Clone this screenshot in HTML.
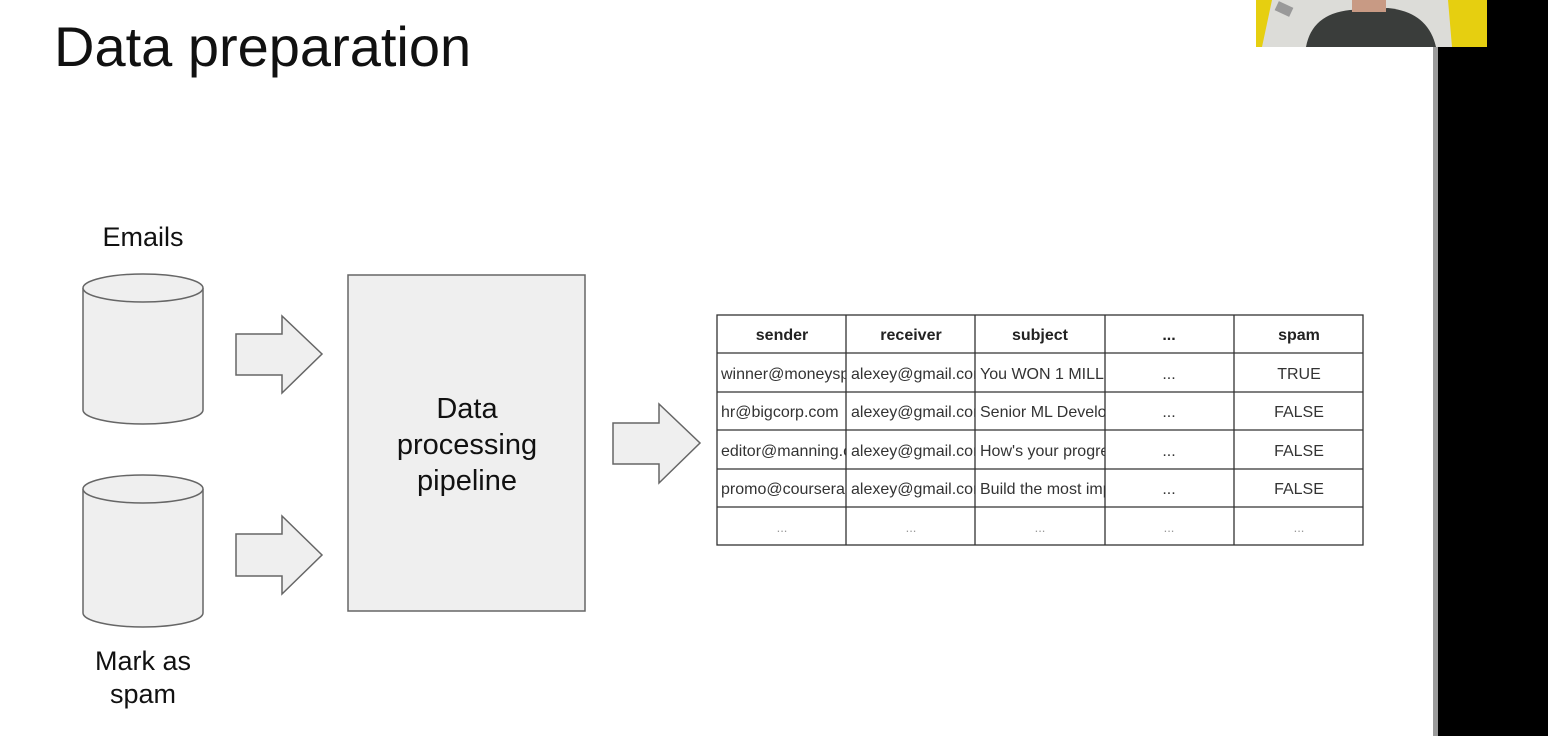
<!DOCTYPE html>
<html><head><meta charset="utf-8"><style>
html,body{margin:0;padding:0;background:#fff;}
svg{display:block;}
text{font-family:"Liberation Sans",Arial,sans-serif;}
</style></head><body>
<svg width="1548" height="736" viewBox="0 0 1548 736" xmlns="http://www.w3.org/2000/svg">
<rect width="1548" height="736" fill="#fff"/>
<rect x="1433" y="47" width="115" height="689" fill="#000"/>
<rect x="1433" y="47" width="5" height="689" fill="#9a9a9a"/>
<rect x="1487" y="0" width="61" height="47" fill="#000"/>
<rect x="1256" y="0" width="231" height="47" fill="#e6cf10"/>
<polygon points="1272,0 1448,0 1452,47 1262,47" fill="#dcdcd8"/>
<rect x="1276" y="4" width="16" height="10" fill="#999" transform="rotate(25 1284 9)"/>
<path d="M1306,47 Q1312,14 1350,10 L1388,8 Q1428,12 1436,47 Z" fill="#3a3d3b"/>
<rect x="1352" y="0" width="34" height="12" fill="#c89a84"/>
<text x="54" y="66" font-size="56" fill="#111">Data preparation</text>
<text x="143" y="246" font-size="27" text-anchor="middle" fill="#111">Emails</text>
<text x="143" y="670" font-size="27" text-anchor="middle" fill="#111">Mark as</text>
<text x="143" y="703" font-size="27" text-anchor="middle" fill="#111">spam</text>
<g fill="#efefef" stroke="#666" stroke-width="1.5">
<path d="M83,288 L83,410 A60,14 0 0 0 203,410 L203,288"/>
<ellipse cx="143" cy="288" rx="60" ry="14"/>
<path d="M83,489 L83,613 A60,14 0 0 0 203,613 L203,489"/>
<ellipse cx="143" cy="489" rx="60" ry="14"/>
<polygon points="236,334 282,334 282,316 322,354 282,393 282,375 236,375"/>
<polygon points="236,534 282,534 282,516 322,555 282,594 282,576 236,576"/>
<polygon points="613,423 659,423 659,404 700,443 659,483 659,464 613,464"/>
<rect x="348" y="275" width="237" height="336"/>
</g>
<text x="467" y="418" font-size="29" text-anchor="middle" fill="#111">Data</text>
<text x="467" y="454" font-size="29" text-anchor="middle" fill="#111">processing</text>
<text x="467" y="490" font-size="29" text-anchor="middle" fill="#111">pipeline</text>
<g stroke="#333" stroke-width="1.3" fill="none">
<rect x="717" y="315" width="646" height="230"/>
<line x1="717" y1="353" x2="1363" y2="353"/>
<line x1="717" y1="392" x2="1363" y2="392"/>
<line x1="717" y1="430" x2="1363" y2="430"/>
<line x1="717" y1="469" x2="1363" y2="469"/>
<line x1="717" y1="507" x2="1363" y2="507"/>
<line x1="846" y1="315" x2="846" y2="545"/>
<line x1="975" y1="315" x2="975" y2="545"/>
<line x1="1105" y1="315" x2="1105" y2="545"/>
<line x1="1234" y1="315" x2="1234" y2="545"/>
</g>
<defs>
<clipPath id="c1"><rect x="717" y="315" width="129" height="230"/></clipPath>
<clipPath id="c2"><rect x="846" y="315" width="129" height="230"/></clipPath>
<clipPath id="c3"><rect x="975" y="315" width="130" height="230"/></clipPath>
</defs>
<g font-size="16" fill="#222" font-weight="bold" text-anchor="middle">
<text x="782" y="340">sender</text><text x="911" y="340">receiver</text><text x="1040" y="340">subject</text><text x="1169" y="340">...</text><text x="1299" y="340">spam</text>
</g>
<g font-size="16" fill="#333">
<g clip-path="url(#c1)"><text x="721" y="379">winner@moneyspam.com</text><text x="721" y="417">hr@bigcorp.com</text><text x="721" y="456">editor@manning.com</text><text x="721" y="494">promo@coursera.org</text></g>
<g clip-path="url(#c2)"><text x="851" y="379">alexey@gmail.com</text><text x="851" y="417">alexey@gmail.com</text><text x="851" y="456">alexey@gmail.com</text><text x="851" y="494">alexey@gmail.com</text></g>
<g clip-path="url(#c3)"><text x="980" y="379">You WON 1 MILLION</text><text x="980" y="417">Senior ML Developer</text><text x="980" y="456">How's your progress</text><text x="980" y="494">Build the most important</text></g>
</g>
<g font-size="16" fill="#333" text-anchor="middle">
<text x="1169" y="379">...</text><text x="1169" y="417">...</text><text x="1169" y="456">...</text><text x="1169" y="494">...</text>
<text x="1299" y="379">TRUE</text><text x="1299" y="417">FALSE</text><text x="1299" y="456">FALSE</text><text x="1299" y="494">FALSE</text>
</g>
<g font-size="13" fill="#999" text-anchor="middle">
<text x="782" y="532">...</text><text x="911" y="532">...</text><text x="1040" y="532">...</text><text x="1169" y="532">...</text><text x="1299" y="532">...</text>
</g>
</svg>
</body></html>
